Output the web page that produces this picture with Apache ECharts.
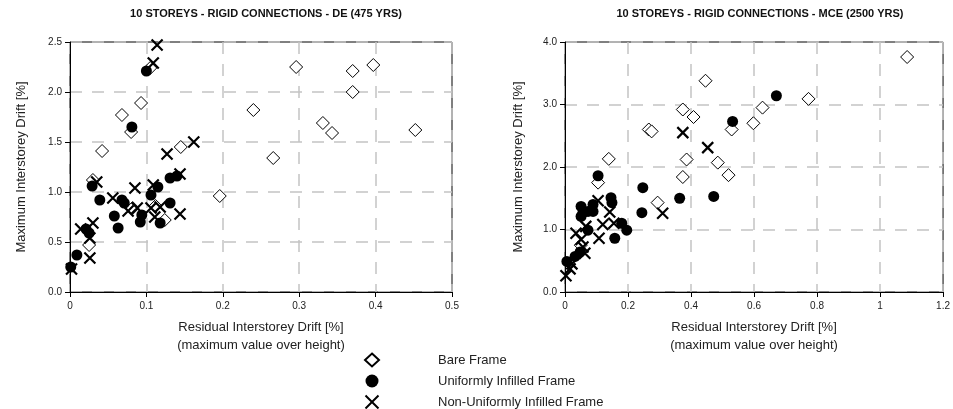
<!DOCTYPE html>
<html>
<head>
<meta charset="utf-8">
<script src="https://cdn.jsdelivr.net/npm/echarts@6/dist/echarts.min.js"></script>
<style>
  html, body { margin: 0; padding: 0; background: #fff; }
  #chart { width: 953px; height: 409px; }
</style>
</head>
<body>
<div id="chart"></div>
<script>
// series names
const seriesNames = ['Bare Frame', 'Uniformly Infilled Frame', 'Non-Uniformly Infilled Frame']

// DE (475 yrs) - [residual drift, max drift]
const deBare = [
  [0.030, 1.12], [0.025, 0.47], [0.082, 0.84], [0.112, 0.86], [0.124, 0.72], [0.196, 0.96],
  [0.266, 1.34], [0.042, 1.41], [0.145, 1.45], [0.068, 1.77], [0.080, 1.60], [0.093, 1.89],
  [0.105, 2.24], [0.240, 1.82], [0.296, 2.25], [0.370, 2.21], [0.397, 2.27], [0.370, 2.00],
  [0.331, 1.69], [0.343, 1.59], [0.452, 1.62]
]
const deUniform = [
  [0.081, 1.65], [0.100, 2.21], [0.029, 1.06], [0.039, 0.92], [0.068, 0.92], [0.071, 0.89],
  [0.058, 0.76], [0.063, 0.64], [0.094, 0.77], [0.092, 0.70], [0.115, 1.05], [0.106, 0.97],
  [0.118, 0.69], [0.131, 0.89], [0.131, 1.14], [0.140, 1.16], [0.021, 0.63], [0.025, 0.59],
  [0.009, 0.37], [0.001, 0.25]
]
const deNonUniform = [
  [0.114, 2.47], [0.109, 2.29], [0.127, 1.38], [0.162, 1.50], [0.035, 1.10], [0.056, 0.94],
  [0.085, 1.04], [0.076, 0.81], [0.088, 0.84], [0.109, 1.07], [0.106, 0.84], [0.118, 0.85],
  [0.111, 0.75], [0.144, 0.78], [0.144, 1.18], [0.014, 0.63], [0.030, 0.69], [0.026, 0.54],
  [0.026, 0.34], [0.002, 0.23]
]

// MCE (2500 yrs)
const mceBare = [
  [0.139, 2.13], [0.105, 1.75], [0.386, 2.12], [0.374, 1.84], [0.485, 2.07], [0.519, 1.87],
  [0.294, 1.43], [0.266, 2.60], [0.275, 2.57], [0.374, 2.92], [0.408, 2.80], [0.446, 3.38],
  [0.529, 2.60], [0.627, 2.95], [0.598, 2.70], [0.773, 3.09], [1.086, 3.76], [0.050, 0.75]
]
const mceUniform = [
  [0.105, 1.86], [0.247, 1.67], [0.364, 1.50], [0.472, 1.53], [0.244, 1.27], [0.051, 1.37],
  [0.057, 1.27], [0.073, 1.29], [0.089, 1.40], [0.089, 1.29], [0.051, 1.21], [0.146, 1.51],
  [0.149, 1.43], [0.180, 1.10], [0.196, 0.99], [0.158, 0.86], [0.073, 0.99], [0.032, 0.57],
  [0.048, 0.64], [0.006, 0.49], [0.532, 2.73], [0.671, 3.14]
]
const mceNonUniform = [
  [0.374, 2.55], [0.453, 2.31], [0.310, 1.26], [0.105, 1.46], [0.142, 1.28], [0.120, 1.08],
  [0.155, 1.10], [0.108, 0.86], [0.035, 0.94], [0.051, 0.84], [0.057, 0.72], [0.063, 0.62],
  [0.016, 0.37], [0.003, 0.26], [0.022, 0.45], [0.066, 1.05]
]

const titles = [
  '10 STOREYS - RIGID CONNECTIONS - DE (475 YRS)',
  '10 STOREYS - RIGID CONNECTIONS - MCE (2500 YRS)'
]

const FONT = 'Arial, "Liberation Sans", sans-serif'
const crossPath = 'path://M0,0L10,10M10,0L0,10'

const styles = [
  { symbol: 'diamond', symbolSize: [13, 13], itemStyle: { color: '#fff', borderColor: '#000', borderWidth: 1, opacity: 1 } },
  { symbol: 'circle', symbolSize: 11, itemStyle: { color: '#000', borderColor: '#000', borderWidth: 0, opacity: 1 } },
  { symbol: crossPath, symbolSize: 11, itemStyle: { color: 'rgba(0,0,0,0)', borderColor: '#000', borderWidth: 2.2, opacity: 1 } }
]

const splitLine = { show: true, lineStyle: { color: '#c4c4c4', width: 1.5, type: [12, 10] } }
const axisLine = { show: true, lineStyle: { color: '#000', width: 1 } }
const axisTick = { show: true, inside: false, length: 5, lineStyle: { color: '#000' } }
const axisLabel = { fontFamily: FONT, fontSize: 10, color: '#222' }

function xAxisOpt (gridIndex, max, interval) {
  return {
    gridIndex, type: 'value', min: 0, max, interval,
    name: 'Residual Interstorey Drift [%]\n(maximum value over height)',
    nameLocation: 'middle', nameGap: 26,
    nameTextStyle: { fontFamily: FONT, fontSize: 13, color: '#222', lineHeight: 18 },
    axisLine, axisTick, splitLine,
    axisLabel: { ...axisLabel, margin: 9 }
  }
}

function yAxisOpt (gridIndex, max, interval, gap) {
  return {
    gridIndex, type: 'value', min: 0, max, interval,
    name: 'Maximum Interstorey Drift [%]',
    nameLocation: 'middle', nameGap: gap,
    nameTextStyle: { fontFamily: FONT, fontSize: 13, color: '#222' },
    axisLine, axisTick, splitLine,
    axisLabel: { ...axisLabel, margin: 8, formatter: (v) => v.toFixed(1) }
  }
}

function makeSeries (data, idx, grid) {
  return {
    name: seriesNames[idx],
    type: 'scatter',
    xAxisIndex: grid, yAxisIndex: grid,
    data,
    symbol: styles[idx].symbol,
    symbolSize: styles[idx].symbolSize,
    itemStyle: styles[idx].itemStyle,
    emphasis: { disabled: true },
    z: 2 + idx
  }
}

const chart = echarts.init(document.getElementById('chart'))

chart.setOption({
  animation: false,
  backgroundColor: '#fff',
  title: [
    { text: titles[0], left: 261, top: 3, textAlign: 'center',
      textStyle: { fontFamily: FONT, fontSize: 11, fontWeight: 'bold', color: '#111' } },
    { text: titles[1], left: 755, top: 3, textAlign: 'center',
      textStyle: { fontFamily: FONT, fontSize: 11, fontWeight: 'bold', color: '#111' } }
  ],
  legend: {
    orient: 'vertical',
    left: 364, top: 352, height: 80, width: 300, padding: 0,
    itemWidth: 14, itemHeight: 13, itemGap: 5,
    selectedMode: false,
    data: seriesNames,
    textStyle: { fontFamily: FONT, fontSize: 13, lineHeight: 16, color: '#222', padding: [0, 0, 0, 54] }
  },
  grid: [
    { left: 70, top: 42, width: 382, height: 250, show: true, borderColor: '#000', borderWidth: 1, backgroundColor: '#fff' },
    { left: 565, top: 42, width: 379, height: 250, show: true, borderColor: '#000', borderWidth: 1, backgroundColor: '#fff' }
  ],
  xAxis: [xAxisOpt(0, 0.5, 0.1), xAxisOpt(1, 1.2, 0.2)],
  yAxis: [yAxisOpt(0, 2.5, 0.5, 42), yAxisOpt(1, 4, 1, 40)],
  series: [
    makeSeries(deBare, 0, 0),
    makeSeries(deUniform, 1, 0),
    makeSeries(deNonUniform, 2, 0),
    makeSeries(mceBare, 0, 1),
    makeSeries(mceUniform, 1, 1),
    makeSeries(mceNonUniform, 2, 1)
  ]
})

window.addEventListener('resize', () => chart.resize())
</script>
</body>
</html>
